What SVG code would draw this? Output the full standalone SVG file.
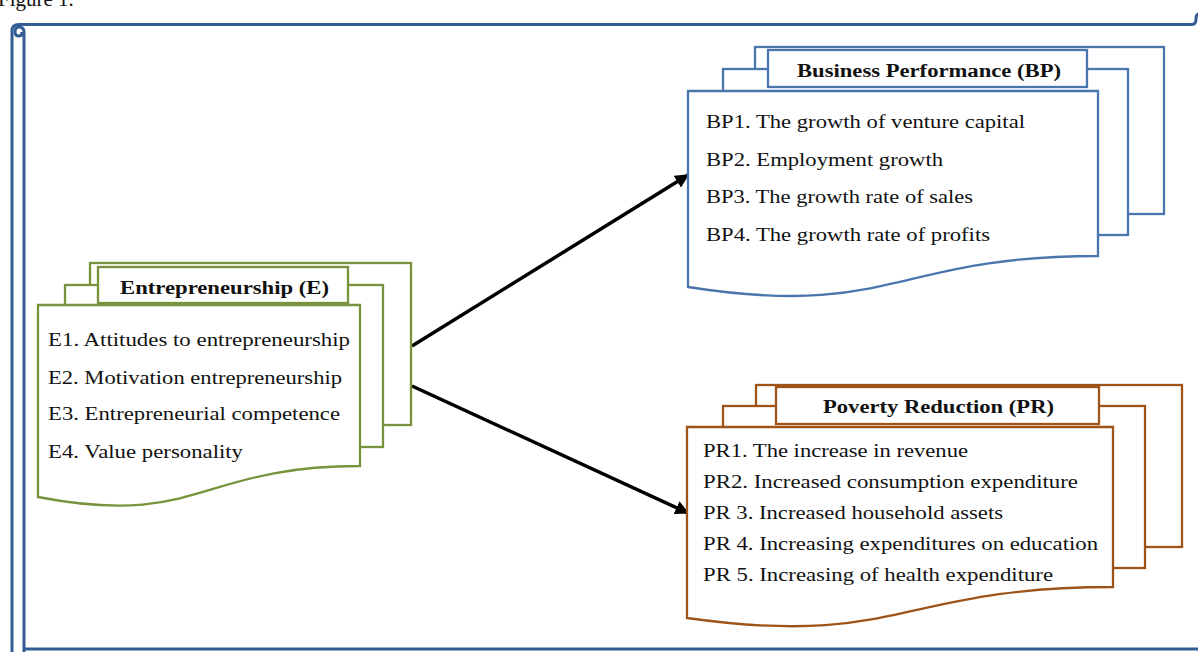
<svg xmlns="http://www.w3.org/2000/svg" width="1198" height="652" viewBox="0 0 1198 652">
<defs>
<style>
.t{font-family:"Liberation Serif","Times New Roman",serif;font-size:18.5px;fill:#111}
.h{font-family:"Liberation Serif","Times New Roman",serif;font-size:18.5px;font-weight:bold;fill:#111}
.g{fill:#fff;stroke:#77933C;stroke-width:2.3}
.b{fill:#fff;stroke:#4A76AE;stroke-width:2.3}
.o{fill:#fff;stroke:#9E5418;stroke-width:2.3}
.fr{fill:none;stroke:#335C94;stroke-width:3}
.c{fill:none;stroke:#000;stroke-width:3.5}
</style>
<marker id="ah" viewBox="0 0 10 10" refX="9" refY="5" markerWidth="4" markerHeight="4" orient="auto" markerUnits="strokeWidth">
<path d="M0,0 L10,5 L0,10 Z" fill="#000"/>
</marker>
</defs>
<rect width="1198" height="652" fill="#fff"/>
<text x="-2" y="6" style="font-family:'Liberation Serif','Times New Roman',serif;font-size:21px;fill:#111">Figure 1.</text>
<g id="frame">
<path class="fr" d="M12,652 V31 Q12,24.5 19,24.5 H1192 Q1196,24.5 1196,19 Q1196,14 1199,14"/>
<path class="fr" d="M24,652 V32 Q24,27 19,27 Q15,27 15,32 Q15,36 19,36 Q22,36 22,32"/>
<path class="fr" d="M24,649 H1198"/>
</g>
<g id="connectors">
<line class="c" x1="412" y1="346" x2="688" y2="175" marker-end="url(#ah)"/>
<line class="c" x1="412" y1="386" x2="688" y2="513" marker-end="url(#ah)"/>
</g>
<g id="node-E">
<rect class="g" x="90" y="263" width="321" height="162"/>
<rect class="g" x="65" y="285" width="318" height="162"/>
<path class="g" d="M38,305 H360 V466 C199,466 199,528 38,497 Z"/>
<rect class="g" x="98" y="267" width="250" height="36"/>
<text class="h" x="120" y="294" textLength="209" lengthAdjust="spacingAndGlyphs">Entrepreneurship (E)</text>
<text class="t" x="48" y="346" textLength="302" lengthAdjust="spacingAndGlyphs">E1. Attitudes to entrepreneurship</text>
<text class="t" x="48" y="384" textLength="294" lengthAdjust="spacingAndGlyphs">E2. Motivation entrepreneurship</text>
<text class="t" x="48" y="420" textLength="292" lengthAdjust="spacingAndGlyphs">E3. Entrepreneurial  competence</text>
<text class="t" x="48" y="458" textLength="195" lengthAdjust="spacingAndGlyphs">E4. Value personality</text>
</g>
<g id="node-BP">
<rect class="b" x="755" y="47" width="409" height="167"/>
<rect class="b" x="723" y="69" width="405" height="166"/>
<path class="b" d="M688,91 H1098 V256 C893,256 893,319 688,287 Z"/>
<rect class="b" x="768" y="50" width="319" height="37"/>
<text class="h" x="797" y="77" textLength="264" lengthAdjust="spacingAndGlyphs">Business Performance (BP)</text>
<text class="t" x="706" y="128" textLength="319" lengthAdjust="spacingAndGlyphs">BP1. The growth of venture capital</text>
<text class="t" x="706" y="166" textLength="237" lengthAdjust="spacingAndGlyphs">BP2. Employment growth</text>
<text class="t" x="706" y="203" textLength="267" lengthAdjust="spacingAndGlyphs">BP3. The growth rate of sales</text>
<text class="t" x="706" y="241" textLength="284" lengthAdjust="spacingAndGlyphs">BP4. The growth rate of profits</text>
</g>
<g id="node-PR">
<rect class="o" x="756" y="385" width="426" height="162"/>
<rect class="o" x="723" y="406" width="422" height="162"/>
<path class="o" d="M687,427 H1113 V587 C900,587 900,648 687,618 Z"/>
<rect class="o" x="776" y="387" width="323" height="37"/>
<text class="h" x="823" y="413" textLength="231" lengthAdjust="spacingAndGlyphs">Poverty Reduction (PR)</text>
<text class="t" x="703" y="457" textLength="265" lengthAdjust="spacingAndGlyphs">PR1. The increase  in revenue</text>
<text class="t" x="703" y="488" textLength="375" lengthAdjust="spacingAndGlyphs">PR2. Increased consumption  expenditure</text>
<text class="t" x="703" y="519" textLength="300" lengthAdjust="spacingAndGlyphs">PR 3. Increased household assets</text>
<text class="t" x="703" y="550" textLength="395" lengthAdjust="spacingAndGlyphs">PR 4. Increasing expenditures on education</text>
<text class="t" x="703" y="581" textLength="350" lengthAdjust="spacingAndGlyphs">PR 5. Increasing of health expenditure</text>
</g>
</svg>
